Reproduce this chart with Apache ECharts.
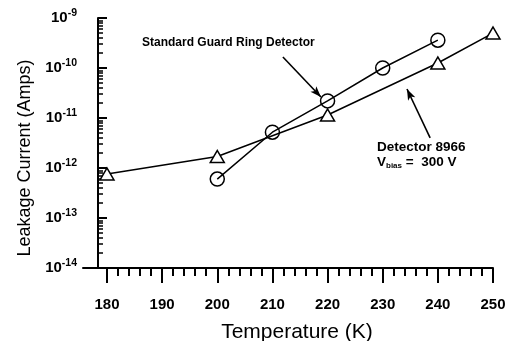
<!DOCTYPE html>
<html>
<head>
<meta charset="utf-8">
<script src="https://cdn.jsdelivr.net/npm/echarts@6/dist/echarts.min.js"></script>
<style>
  html, body { margin: 0; padding: 0; background: #fff; }
  #chart { width: 506px; height: 341px; }
</style>
</head>
<body>
<div id="chart"></div>
<script>
// Detector 8966 (triangles)
const temps8966 = [180, 200, 220, 240, 250];
const leak8966 = [7.6e-13, 1.7e-12, 1.15e-11, 1.26e-10, 5.0e-10];

// Standard guard ring detector (circles)
const tempsGuard = [200, 210, 220, 230, 240];
const leakGuard = [6.0e-13, 5.2e-12, 2.2e-11, 1.0e-10, 3.6e-10];

// axis ticks
const xTickLabels = [180, 190, 200, 210, 220, 230, 240, 250];
const xMinorTicks = [182, 184, 186, 188, 192, 194, 196, 198, 202, 204, 206, 208, 212, 214, 216, 218,
  222, 224, 226, 228, 232, 234, 236, 238, 242, 244, 246, 248];
const yTickExps = [-14, -13, -12, -11, -10, -9];

const yMajor = yTickExps.map(e => Math.pow(10, e));
const yMinor = [];
yTickExps.slice(0, -1).forEach(e => {
  for (let m = 2; m <= 9; m++) yMinor.push(m * Math.pow(10, e));
});

const chart = echarts.init(document.getElementById("chart"));
const font = "Liberation Sans, Arial, sans-serif";

const option = {
  animation: false,
  backgroundColor: "#fff",
  grid: { left: 83, right: 13, top: 18, bottom: 73, outerBoundsMode: "none" },
  xAxis: [
    {
      type: "value",
      min: 175.65,
      max: 250,
      name: "Temperature (K)",
      nameLocation: "middle",
      nameGap: 54,
      nameTextStyle: { fontFamily: font, fontSize: 21, color: "#000", padding: [0, 0, 0, 18] },
      axisLine: { lineStyle: { color: "#000", width: 2 } },
      axisTick: { customValues: xTickLabels, inside: false, length: 15, lineStyle: { color: "#000", width: 2 } },
      axisLabel: {
        customValues: xTickLabels,
        margin: 29,
        fontFamily: font,
        fontSize: 15,
        fontWeight: "bold",
        color: "#000"
      },
      splitLine: { show: false }
    },
    {
      type: "value",
      position: "bottom",
      min: 175.65,
      max: 250,
      axisLine: { show: false },
      axisTick: { customValues: xMinorTicks, inside: false, length: 8, lineStyle: { color: "#000", width: 2 } },
      axisLabel: { show: false },
      splitLine: { show: false }
    }
  ],
  yAxis: [
    {
      type: "log",
      logBase: 10,
      min: 1e-14,
      max: 1e-9,
      offset: -15,
      name: "Leakage Current (Amps)",
      nameLocation: "middle",
      nameGap: 60,
      nameTextStyle: { fontFamily: font, fontSize: 18, color: "#000", padding: [0, 30, 0, 0] },
      axisLine: { show: true, lineStyle: { color: "#000", width: 2 } },
      axisTick: { customValues: yMajor, inside: true, length: 9, lineStyle: { color: "#000", width: 2 } },
      axisLabel: {
        customValues: yMajor,
        margin: 21,
        formatter: v => "{b|10}{s|" + Math.round(Math.log10(v)) + "}",
        rich: {
          b: { fontFamily: font, fontSize: 15, fontWeight: "bold", color: "#000" },
          s: { fontFamily: font, fontSize: 10.5, fontWeight: "bold", color: "#000", padding: [0, 0, 9, 0] }
        }
      },
      splitLine: { show: false }
    },
    {
      type: "log",
      logBase: 10,
      min: 1e-14,
      max: 1e-9,
      offset: -15,
      position: "left",
      axisLine: { show: false },
      axisTick: { customValues: yMinor, inside: true, length: 5, lineStyle: { color: "#000", width: 1.5 } },
      axisLabel: { show: false },
      splitLine: { show: false }
    }
  ],
  series: [
    {
      name: "Detector 8966",
      type: "line",
      data: temps8966.map((t, i) => [t, leak8966[i]]),
      symbol: "triangle",
      symbolSize: [14, 12],
      showAllSymbol: true,
      lineStyle: { color: "#000", width: 1.5 },
      itemStyle: { color: "#fff", borderColor: "#000", borderWidth: 1.5 },
      z: 3,
      markLine: {
        silent: true,
        symbol: ["none", "arrow"],
        symbolSize: [6, 11],
        label: { show: false },
        lineStyle: { color: "#000", width: 1.6, type: "solid" },
        data: [
          [{ coord: [238.6, 4.0e-12] }, { coord: [234.4, 3.8e-11] }],
          [{ coord: [211.9, 1.66e-10] }, { coord: [218.8, 2.63e-11] }]
        ]
      }
    },
    {
      name: "Standard Guard Ring Detector",
      type: "line",
      data: tempsGuard.map((t, i) => [t, leakGuard[i]]),
      symbol: "circle",
      symbolSize: 14,
      showAllSymbol: true,
      lineStyle: { color: "#000", width: 1.5 },
      itemStyle: { color: "rgba(255,255,255,0)", borderColor: "#000", borderWidth: 1.5 },
      z: 4
    }
  ],
  graphic: [
    {
      type: "text",
      left: 142,
      top: 37,
      style: { text: "Standard Guard Ring Detector", font: "bold 12px " + font, fill: "#000" }
    },
    {
      type: "text",
      left: 377,
      top: 140,
      style: { text: "Detector 8966", font: "bold 13.5px " + font, fill: "#000" }
    },
    {
      type: "text",
      left: 377,
      top: 155,
      style: {
        text: "{v|V}{sub|bias}{v| =  300 V}",
        rich: {
          v: { font: "bold 13.5px " + font, fill: "#000" },
          sub: { font: "bold 8px " + font, fill: "#000", padding: [7, 0, 0, 0] }
        }
      }
    }
  ]
};

chart.setOption(option);
</script>
</body>
</html>
